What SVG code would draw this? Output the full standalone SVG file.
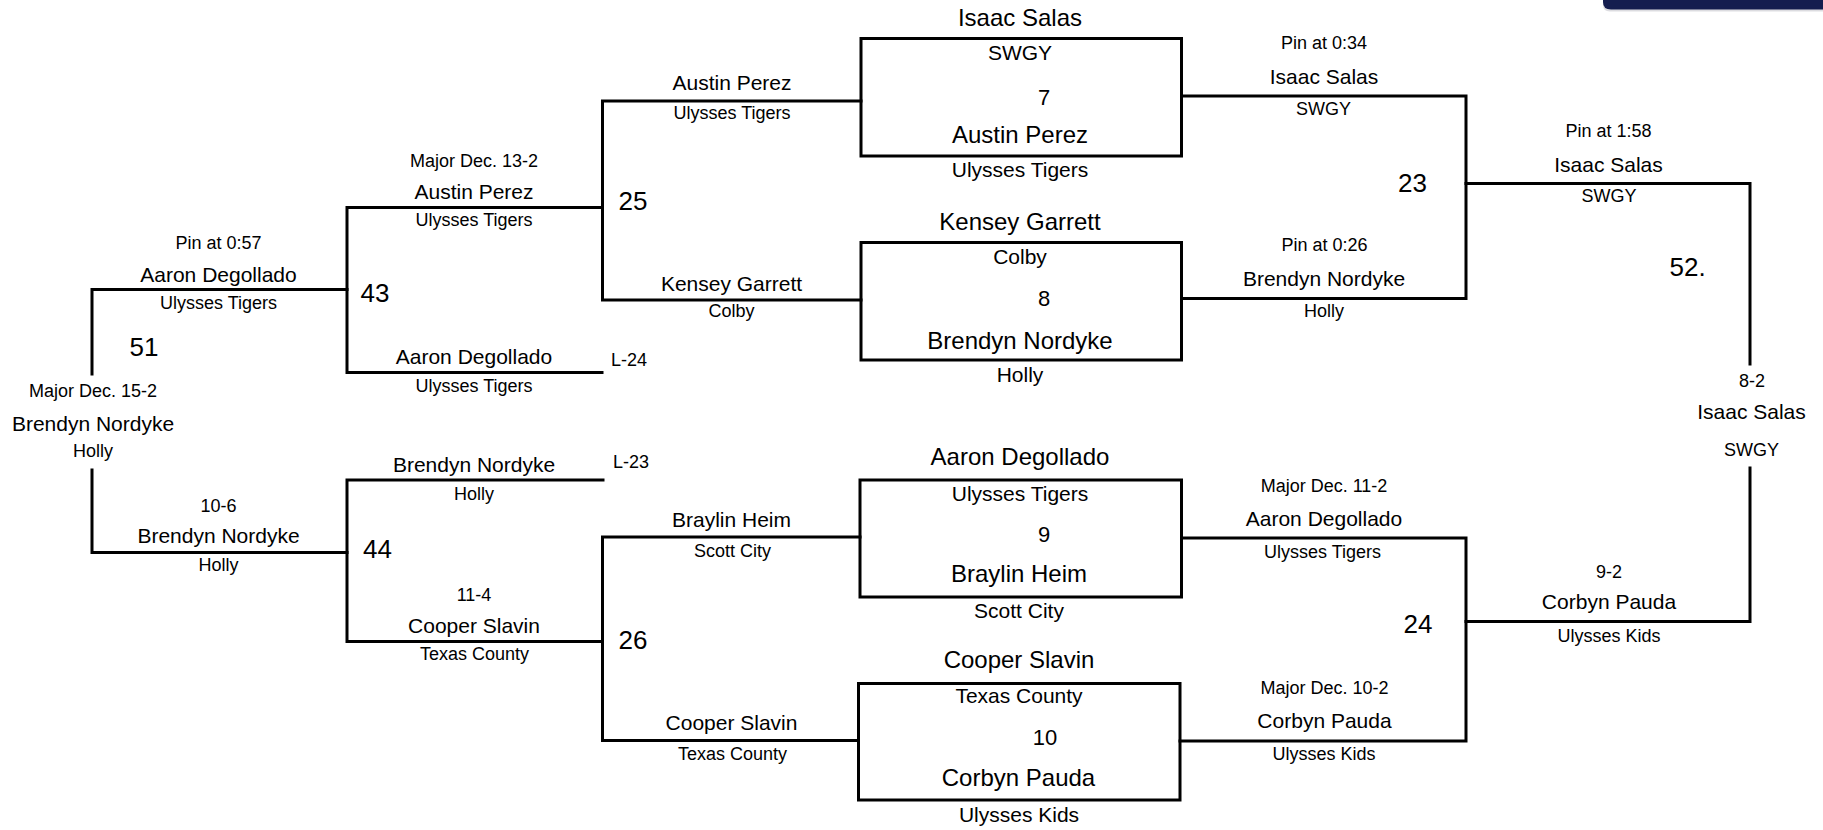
<svg xmlns="http://www.w3.org/2000/svg" width="1823" height="830" viewBox="0 0 1823 830">
<style>
text{font-family:"Liberation Sans",Arial,sans-serif;fill:#000}
.c{text-anchor:middle}
.sm{font-size:18px}
.nm{font-size:21px}
.bn{font-size:24px}
.bt{font-size:21px}
.num{font-size:26px}
.bnum{font-size:22px}
.ln{stroke:#000;stroke-width:3;fill:none;stroke-linecap:square}
</style>
<rect width="1823" height="830" fill="#fff"/>
<path d="M1603,0 V3 Q1603,10 1610,10 H1823 V0 Z" fill="#9a9aa6" opacity="0.35" transform="translate(0,1.5)"/>
<path d="M1603,0 V2 Q1603,9.5 1611,9.5 H1823 V0 Z" fill="#141d4f"/>

<g id="connectors">
<path class="ln" d="M92,374 V289.5 H347"/>
<path class="ln" d="M92,470 V552.5 H347"/>
<path class="ln" d="M602.5,207.5 H347 V372.5 H602"/>
<path class="ln" d="M603,480 H347 V641.5 H602.5"/>
<path class="ln" d="M861,101 H602.5 V300 H861"/>
<path class="ln" d="M860,537 H602.5 V740.5 H858.5"/>
<path class="ln" d="M1181.5,96 H1466 V298.5 H1181.5"/>
<path class="ln" d="M1181.5,538 H1466 V741 H1180"/>
<path class="ln" d="M1466,183.5 H1750 V364"/>
<path class="ln" d="M1466,621.5 H1750 V468"/>
</g>

<g id="box7">
<rect class="ln" x="861" y="38.5" width="320.5" height="117.5"/>
<text class="c bn" x="1020" y="26">Isaac Salas</text>
<text class="c bt" x="1020" y="60">SWGY</text>
<text class="c bnum" x="1044" y="105">7</text>
<text class="c bn" x="1020" y="143">Austin Perez</text>
<text class="c bt" x="1020" y="177">Ulysses Tigers</text>
</g>
<g id="box8">
<rect class="ln" x="861" y="242.5" width="320.5" height="117.5"/>
<text class="c bn" x="1020" y="230">Kensey Garrett</text>
<text class="c bt" x="1020" y="264">Colby</text>
<text class="c bnum" x="1044" y="305.5">8</text>
<text class="c bn" x="1020" y="349">Brendyn Nordyke</text>
<text class="c bt" x="1020" y="381.5">Holly</text>
</g>
<g id="box9">
<rect class="ln" x="860" y="480" width="321.5" height="117"/>
<text class="c bn" x="1020" y="465">Aaron Degollado</text>
<text class="c bt" x="1020" y="501">Ulysses Tigers</text>
<text class="c bnum" x="1044" y="542">9</text>
<text class="c bn" x="1019" y="581.5">Braylin Heim</text>
<text class="c bt" x="1019" y="618">Scott City</text>
</g>
<g id="box10">
<rect class="ln" x="858.5" y="683.5" width="321.5" height="116.5"/>
<text class="c bn" x="1019" y="668">Cooper Slavin</text>
<text class="c bt" x="1019" y="703">Texas County</text>
<text class="c bnum" x="1045" y="745">10</text>
<text class="c bn" x="1018.5" y="785.5">Corbyn Pauda</text>
<text class="c bt" x="1019" y="822">Ulysses Kids</text>
</g>

<g id="bracket25">
<text class="c nm" x="732" y="90">Austin Perez</text>
<text class="c sm" x="732" y="119">Ulysses Tigers</text>
<text class="num" x="618.5" y="210">25</text>
<text class="c nm" x="731.5" y="290.5">Kensey Garrett</text>
<text class="c sm" x="731.5" y="317">Colby</text>
</g>
<g id="bracket26">
<text class="c nm" x="731.5" y="526.5">Braylin Heim</text>
<text class="c sm" x="732.5" y="556.5">Scott City</text>
<text class="num" x="618.5" y="649">26</text>
<text class="c nm" x="731.5" y="730">Cooper Slavin</text>
<text class="c sm" x="732.5" y="760">Texas County</text>
</g>
<g id="bracket43">
<text class="c sm" x="474" y="166.5">Major Dec. 13-2</text>
<text class="c nm" x="474" y="199">Austin Perez</text>
<text class="c sm" x="474" y="226">Ulysses Tigers</text>
<text class="num" x="360.5" y="301.5">43</text>
<text class="c nm" x="474" y="364">Aaron Degollado</text>
<text class="c sm" x="474" y="392">Ulysses Tigers</text>
<text class="sm" x="611" y="365.5">L-24</text>
</g>
<g id="bracket44">
<text class="sm" x="613" y="467.5">L-23</text>
<text class="c nm" x="474" y="471.5">Brendyn Nordyke</text>
<text class="c sm" x="474" y="500">Holly</text>
<text class="num" x="363" y="558">44</text>
<text class="c sm" x="474" y="600.5">11-4</text>
<text class="c nm" x="474" y="632.5">Cooper Slavin</text>
<text class="c sm" x="474.5" y="660">Texas County</text>
</g>
<g id="bracket51">
<text class="c sm" x="218.5" y="249">Pin at 0:57</text>
<text class="c nm" x="218.5" y="281.5">Aaron Degollado</text>
<text class="c sm" x="218.5" y="309">Ulysses Tigers</text>
<text class="c num" x="144" y="356">51</text>
<text class="c sm" x="93" y="397">Major Dec. 15-2</text>
<text class="c nm" x="93" y="430.5">Brendyn Nordyke</text>
<text class="c sm" x="93" y="457">Holly</text>
<text class="c sm" x="218.5" y="511.5">10-6</text>
<text class="c nm" x="218.5" y="543">Brendyn Nordyke</text>
<text class="c sm" x="218.5" y="571">Holly</text>
</g>
<g id="bracket23">
<text class="c sm" x="1324" y="49">Pin at 0:34</text>
<text class="c nm" x="1324" y="84">Isaac Salas</text>
<text class="c sm" x="1323.5" y="115">SWGY</text>
<text class="c num" x="1412.5" y="191.5">23</text>
<text class="c sm" x="1324.5" y="250.5">Pin at 0:26</text>
<text class="c nm" x="1324" y="285.5">Brendyn Nordyke</text>
<text class="c sm" x="1324" y="316.5">Holly</text>
</g>
<g id="bracket24">
<text class="c sm" x="1324" y="492">Major Dec. 11-2</text>
<text class="c nm" x="1324" y="525.5">Aaron Degollado</text>
<text class="c sm" x="1322.5" y="558">Ulysses Tigers</text>
<text class="c num" x="1418" y="633">24</text>
<text class="c sm" x="1324.5" y="694">Major Dec. 10-2</text>
<text class="c nm" x="1324.5" y="728">Corbyn Pauda</text>
<text class="c sm" x="1324" y="760">Ulysses Kids</text>
</g>
<g id="bracket52">
<text class="c sm" x="1608.5" y="136.5">Pin at 1:58</text>
<text class="c nm" x="1608.5" y="171.5">Isaac Salas</text>
<text class="c sm" x="1609" y="202">SWGY</text>
<text class="num" x="1669.5" y="276">52.</text>
<text class="c sm" x="1752" y="386.5">8-2</text>
<text class="c nm" x="1751.5" y="419">Isaac Salas</text>
<text class="c sm" x="1751.5" y="456">SWGY</text>
<text class="c sm" x="1609" y="577.5">9-2</text>
<text class="c nm" x="1609" y="609">Corbyn Pauda</text>
<text class="c sm" x="1609" y="641.5">Ulysses Kids</text>
</g>
</svg>
